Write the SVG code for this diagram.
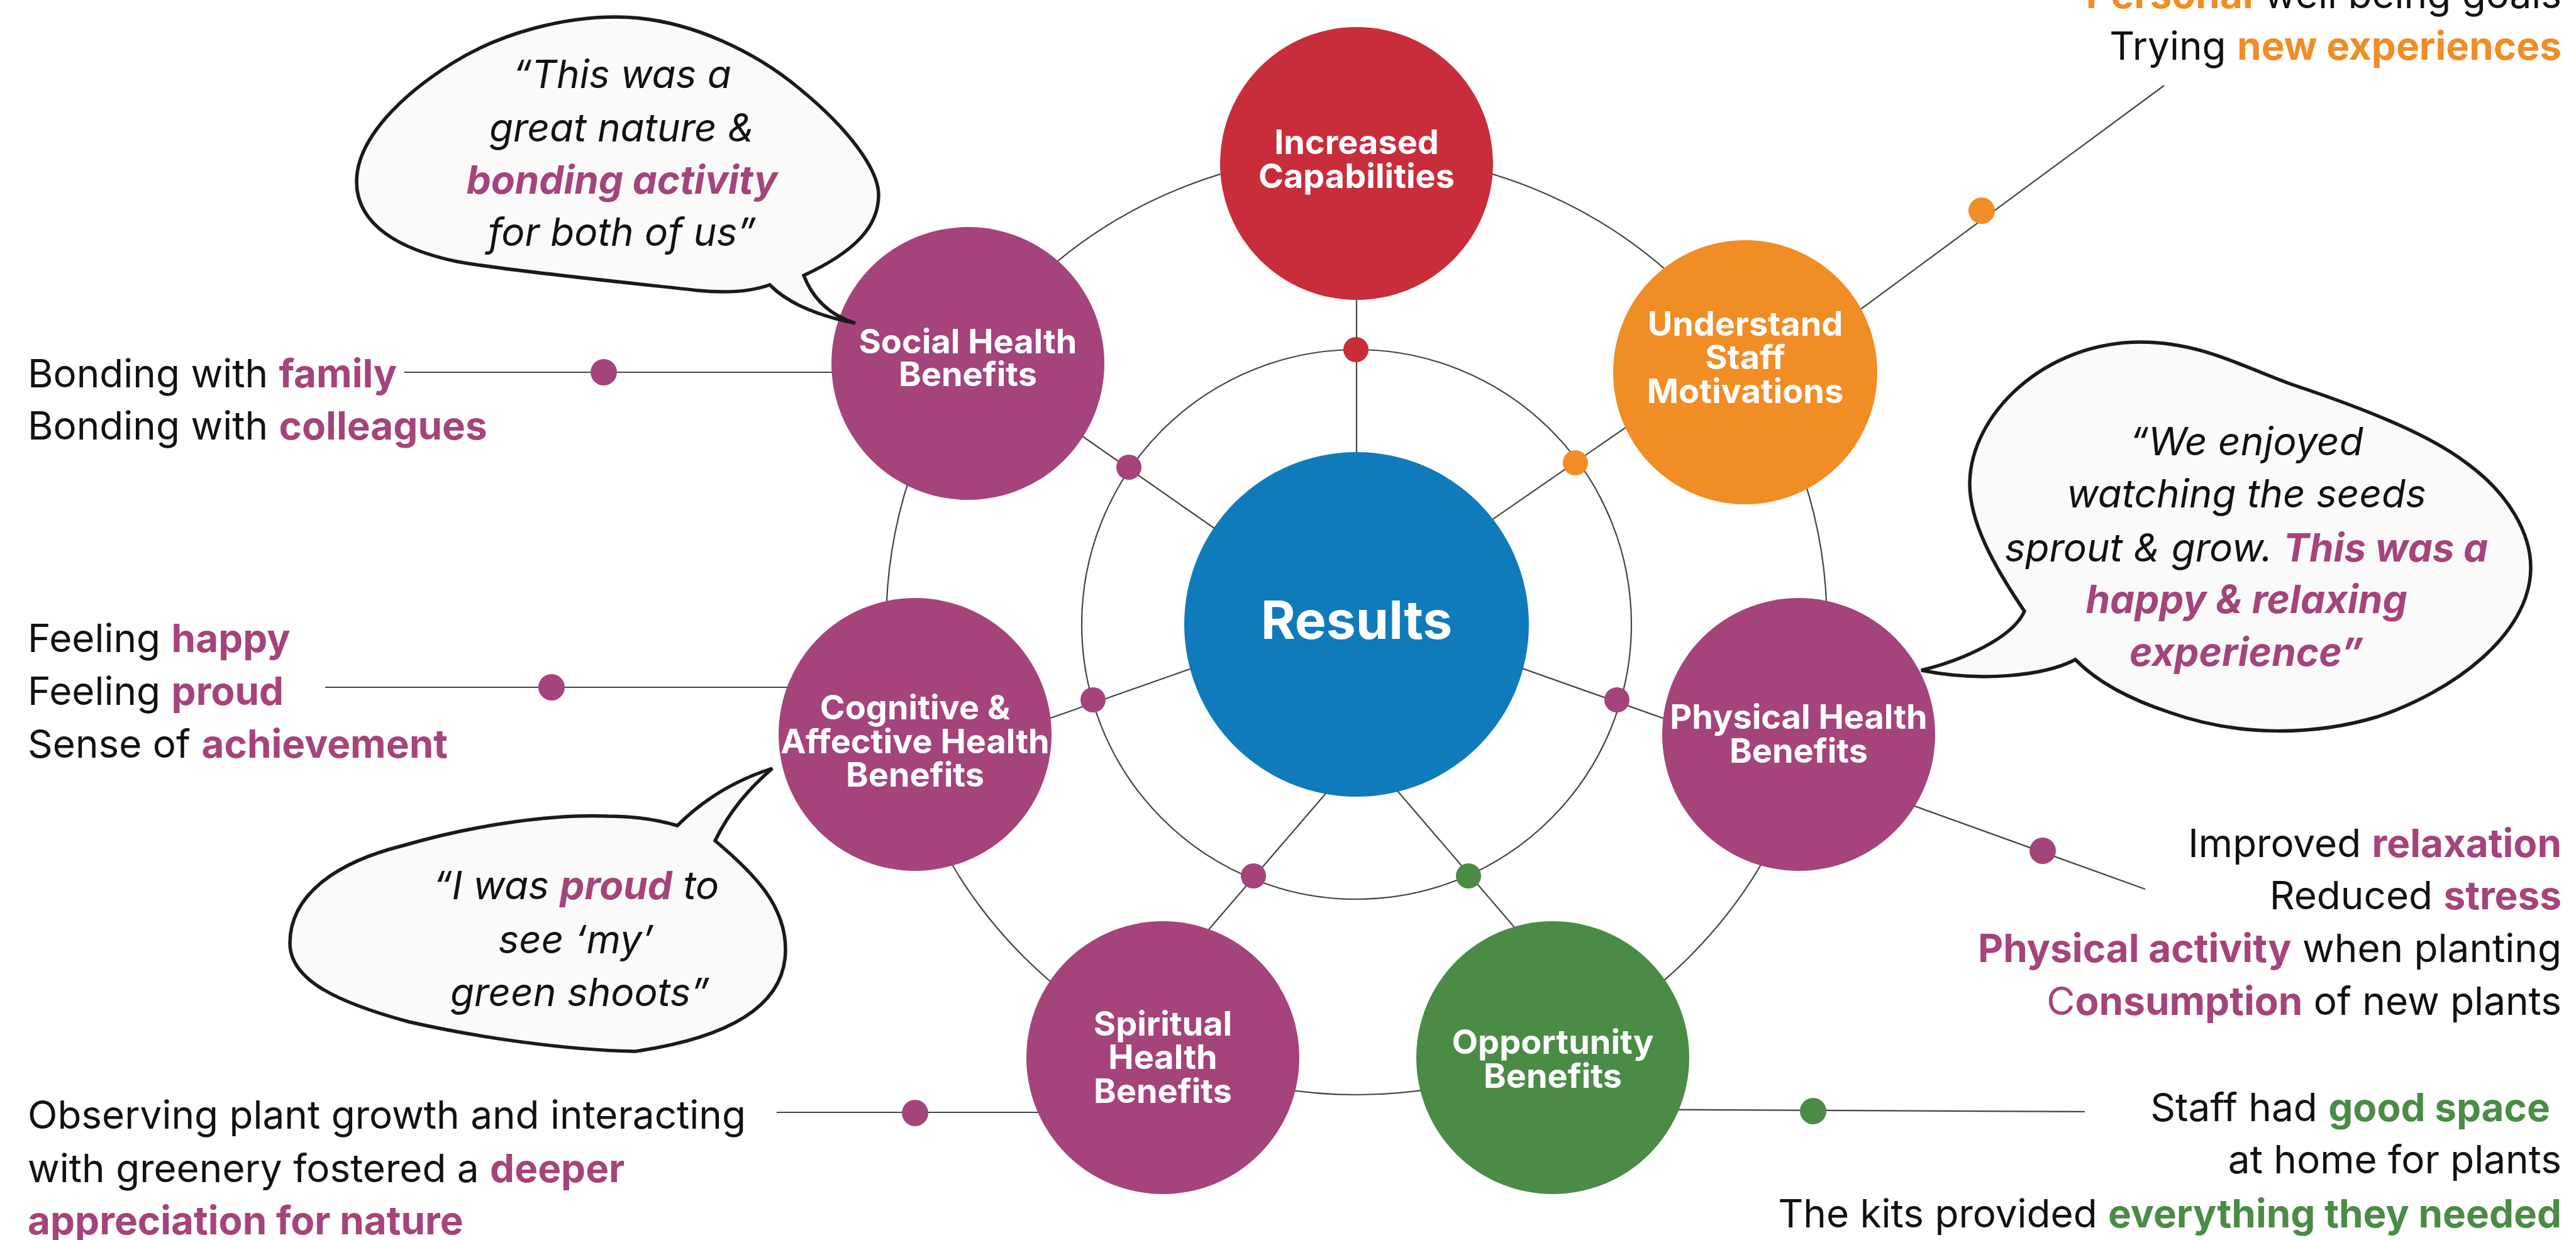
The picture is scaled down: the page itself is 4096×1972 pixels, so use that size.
<svg xmlns="http://www.w3.org/2000/svg" width="4096" height="1972" viewBox="0 0 4096 1972">
  <style>
    .ring { fill: none; stroke: #444; stroke-width: 2.2; }
    .link { stroke: #444; stroke-width: 2.2; fill: none; }
    .lbl { font-family: Inter, "Liberation Sans", sans-serif; font-weight: 700; font-size: 54px; fill: #fff; text-anchor: middle; }
    .big { font-family: Inter, "Liberation Sans", sans-serif; font-weight: 700; font-size: 84px; fill: #fff; text-anchor: middle; }
    .txt { font-family: Inter, "Liberation Sans", sans-serif; font-size: 62px; fill: #111; }
    .end { text-anchor: end; }
    .mid { text-anchor: middle; }
    .q { font-style: italic; }
    .b { font-weight: 700; }
    .pu { fill: #A5437B; }
    .or { fill: #F08D25; }
    .gr { fill: #4A8B45; }
    .bubble { fill: #FAFAFA; stroke: #1A1A1A; stroke-width: 5.5; stroke-linejoin: miter; }
  </style>

  <rect width="4096" height="1972" fill="#fff"/>

  <!-- rings and spokes -->
  <g id="connectors">
    <circle class="ring" cx="2157" cy="993" r="748"/>
    <circle class="ring" cx="2157" cy="993" r="437"/>
    <line class="link" x1="2157" y1="993" x2="2157" y2="260"/>
    <line class="link" x1="2282" y1="889" x2="2660" y2="628"/>
    <line class="link" x1="2282" y1="1014" x2="2723" y2="1170"/>
    <line class="link" x1="2157" y1="1182" x2="2446" y2="1519"/>
    <line class="link" x1="2157" y1="1205" x2="1880" y2="1527"/>
    <line class="link" x1="2031" y1="1015" x2="1591" y2="1170"/>
    <line class="link" x1="2031" y1="910" x2="1654" y2="647"/>
    <!-- outward leaders -->
    <line class="link" x1="2900" y1="535" x2="3441" y2="136"/>
    <line class="link" x1="643" y1="592" x2="1420" y2="592"/>
    <line class="link" x1="517" y1="1093" x2="1400" y2="1093"/>
    <line class="link" x1="1235" y1="1769" x2="1800" y2="1769"/>
    <line class="link" x1="2500" y1="1764" x2="3315" y2="1768"/>
    <line class="link" x1="2900" y1="1230" x2="3411" y2="1414"/>
  </g>

  <g id="results">
    <circle cx="2157" cy="993" r="274" fill="#0F7BBB"/>
    <text class="big" x="2157" y="1016">Results</text>
  </g>

  <g id="increased-capabilities">
    <circle cx="2157" cy="260" r="217" fill="#C92D3A"/>
    <text class="lbl" x="2157" y="245">Increased</text>
    <text class="lbl" x="2157" y="299">Capabilities</text>
  </g>

  <g id="understand-staff-motivations">
    <circle cx="2775" cy="592" r="210" fill="#F08D25"/>
    <text class="lbl" x="2775" y="534">Understand</text>
    <text class="lbl" x="2775" y="587">Staff</text>
    <text class="lbl" x="2775" y="641">Motivations</text>
  </g>

  <g id="physical-health">
    <circle cx="2860" cy="1168" r="217" fill="#A5437B"/>
    <text class="lbl" x="2860" y="1159">Physical Health</text>
    <text class="lbl" x="2860" y="1213">Benefits</text>
  </g>

  <g id="opportunity">
    <circle cx="2469" cy="1682" r="217" fill="#4A8B45"/>
    <text class="lbl" x="2469" y="1676">Opportunity</text>
    <text class="lbl" x="2469" y="1730">Benefits</text>
  </g>

  <g id="spiritual-health">
    <circle cx="1849" cy="1682" r="217" fill="#A5437B"/>
    <text class="lbl" x="1849" y="1647">Spiritual</text>
    <text class="lbl" x="1849" y="1700">Health</text>
    <text class="lbl" x="1849" y="1754">Benefits</text>
  </g>

  <g id="cognitive-affective-health">
    <circle cx="1455" cy="1168" r="217" fill="#A5437B"/>
    <text class="lbl" x="1455" y="1144">Cognitive &amp;</text>
    <text class="lbl" x="1455" y="1198">Affective Health</text>
    <text class="lbl" x="1455" y="1251">Benefits</text>
  </g>

  <g id="social-health">
    <circle cx="1539" cy="578" r="217" fill="#A5437B"/>
    <text class="lbl" x="1539" y="562">Social Health</text>
    <text class="lbl" x="1539" y="614">Benefits</text>
  </g>

  <!-- junction dots -->
  <g id="dots">
    <circle cx="2156" cy="556" r="20" fill="#C92D3A"/>
    <circle cx="2505" cy="736" r="20" fill="#F08D25"/>
    <circle cx="2571" cy="1113" r="20" fill="#A5437B"/>
    <circle cx="2335" cy="1393" r="20" fill="#4A8B45"/>
    <circle cx="1993" cy="1393" r="20" fill="#A5437B"/>
    <circle cx="1738" cy="1113" r="20" fill="#A5437B"/>
    <circle cx="1795" cy="743" r="20" fill="#A5437B"/>
    <circle cx="3151" cy="335" r="21" fill="#F08D25"/>
    <circle cx="960" cy="592" r="21" fill="#A5437B"/>
    <circle cx="877" cy="1093" r="21" fill="#A5437B"/>
    <circle cx="1455" cy="1770" r="21" fill="#A5437B"/>
    <circle cx="2883" cy="1767" r="21" fill="#4A8B45"/>
    <circle cx="3248" cy="1353" r="21" fill="#A5437B"/>
  </g>

  <!-- outcome lists -->
  <g id="staff-motivation-notes">
    <text class="txt end" x="4073" y="13"><tspan class="b or">Personal</tspan> well being goals</text>
    <text class="txt end" x="4073" y="95">Trying <tspan class="b or">new experiences</tspan></text>
  </g>

  <g id="social-notes">
    <text class="txt" x="44" y="616">Bonding with <tspan class="b pu">family</tspan></text>
    <text class="txt" x="44" y="699">Bonding with <tspan class="b pu">colleagues</tspan></text>
  </g>

  <g id="cognitive-notes">
    <text class="txt" x="44" y="1037">Feeling <tspan class="b pu">happy</tspan></text>
    <text class="txt" x="44" y="1121">Feeling <tspan class="b pu">proud</tspan></text>
    <text class="txt" x="44" y="1205">Sense of <tspan class="b pu">achievement</tspan></text>
  </g>

  <g id="spiritual-notes">
    <text class="txt" x="44" y="1795">Observing plant growth and interacting</text>
    <text class="txt" x="44" y="1880">with greenery fostered a <tspan class="b pu">deeper</tspan></text>
    <text class="txt b pu" x="44" y="1963">appreciation for nature</text>
  </g>

  <g id="physical-notes">
    <text class="txt end" x="4073" y="1363">Improved <tspan class="b pu">relaxation</tspan></text>
    <text class="txt end" x="4073" y="1446">Reduced <tspan class="b pu">stress</tspan></text>
    <text class="txt end" x="4073" y="1530"><tspan class="b pu">Physical activity</tspan> when planting</text>
    <text class="txt end" x="4073" y="1614"><tspan class="pu">C</tspan><tspan class="b pu">onsumption</tspan> of new plants</text>
  </g>

  <g id="opportunity-notes">
    <text class="txt end" x="4055" y="1783">Staff had <tspan class="b gr">good space</tspan></text>
    <text class="txt end" x="4073" y="1866">at home for plants</text>
    <text class="txt end" x="4073" y="1952">The kits provided <tspan class="b gr">everything they needed</tspan></text>
  </g>

  <!-- quote bubbles -->
  <g id="quote-social">
    <path class="bubble" d="M979,27 C1100,27 1210,90 1270,140 C1350,205 1397,270 1397,310 C1397,360 1360,400 1278,438 Q1300,495 1360,514 Q1265,495 1224,453 C1190,465 1150,466 1110,462 C1050,455 800,430 727,416 C640,398 567,360 567,289 C567,220 640,150 720,100 C800,50 900,27 979,27 Z"/>
    <text class="txt q mid" x="989" y="140">“This was a</text>
    <text class="txt q mid" x="989" y="225">great nature &amp;</text>
    <text class="txt q mid b pu" x="989" y="308">bonding activity</text>
    <text class="txt q mid" x="989" y="391">for both of us”</text>
  </g>

  <g id="quote-physical">
    <path class="bubble" d="M3404,544 C3500,544 3570,585 3646,612 C3760,650 3860,690 3920,735 C3990,785 4025,850 4024,905 C4022,1010 3900,1100 3780,1140 C3680,1170 3560,1172 3450,1133 C3380,1110 3330,1080 3300,1049 C3250,1075 3150,1085 3055,1066 C3120,1050 3200,1015 3219,972 C3170,900 3132,830 3132,770 C3132,660 3250,544 3404,544 Z"/>
    <text class="txt q mid" x="3572" y="724">“We enjoyed</text>
    <text class="txt q mid" x="3572" y="807">watching the seeds</text>
    <text class="txt q mid" x="3572" y="893">sprout &amp; grow. <tspan class="b pu">This was a</tspan></text>
    <text class="txt q mid b pu" x="3572" y="975">happy &amp; relaxing</text>
    <text class="txt q mid b pu" x="3572" y="1059">experience”</text>
  </g>

  <g id="quote-cognitive">
    <path class="bubble" d="M1228,1222 C1190,1255 1160,1290 1137,1337 C1200,1390 1249,1440 1249,1510 C1249,1600 1160,1650 1010,1672 C900,1670 760,1650 650,1625 C540,1595 461,1560 461,1500 C461,1420 540,1370 640,1345 C760,1310 880,1295 966,1298 C1010,1298 1050,1305 1077,1313 Q1140,1250 1228,1222 Z"/>
    <text class="txt q mid" x="916" y="1430">“I was <tspan class="b pu">proud</tspan> to</text>
    <text class="txt q mid" x="916" y="1516">see ‘my’</text>
    <text class="txt q mid" x="922" y="1600">green shoots”</text>
  </g>
</svg>
